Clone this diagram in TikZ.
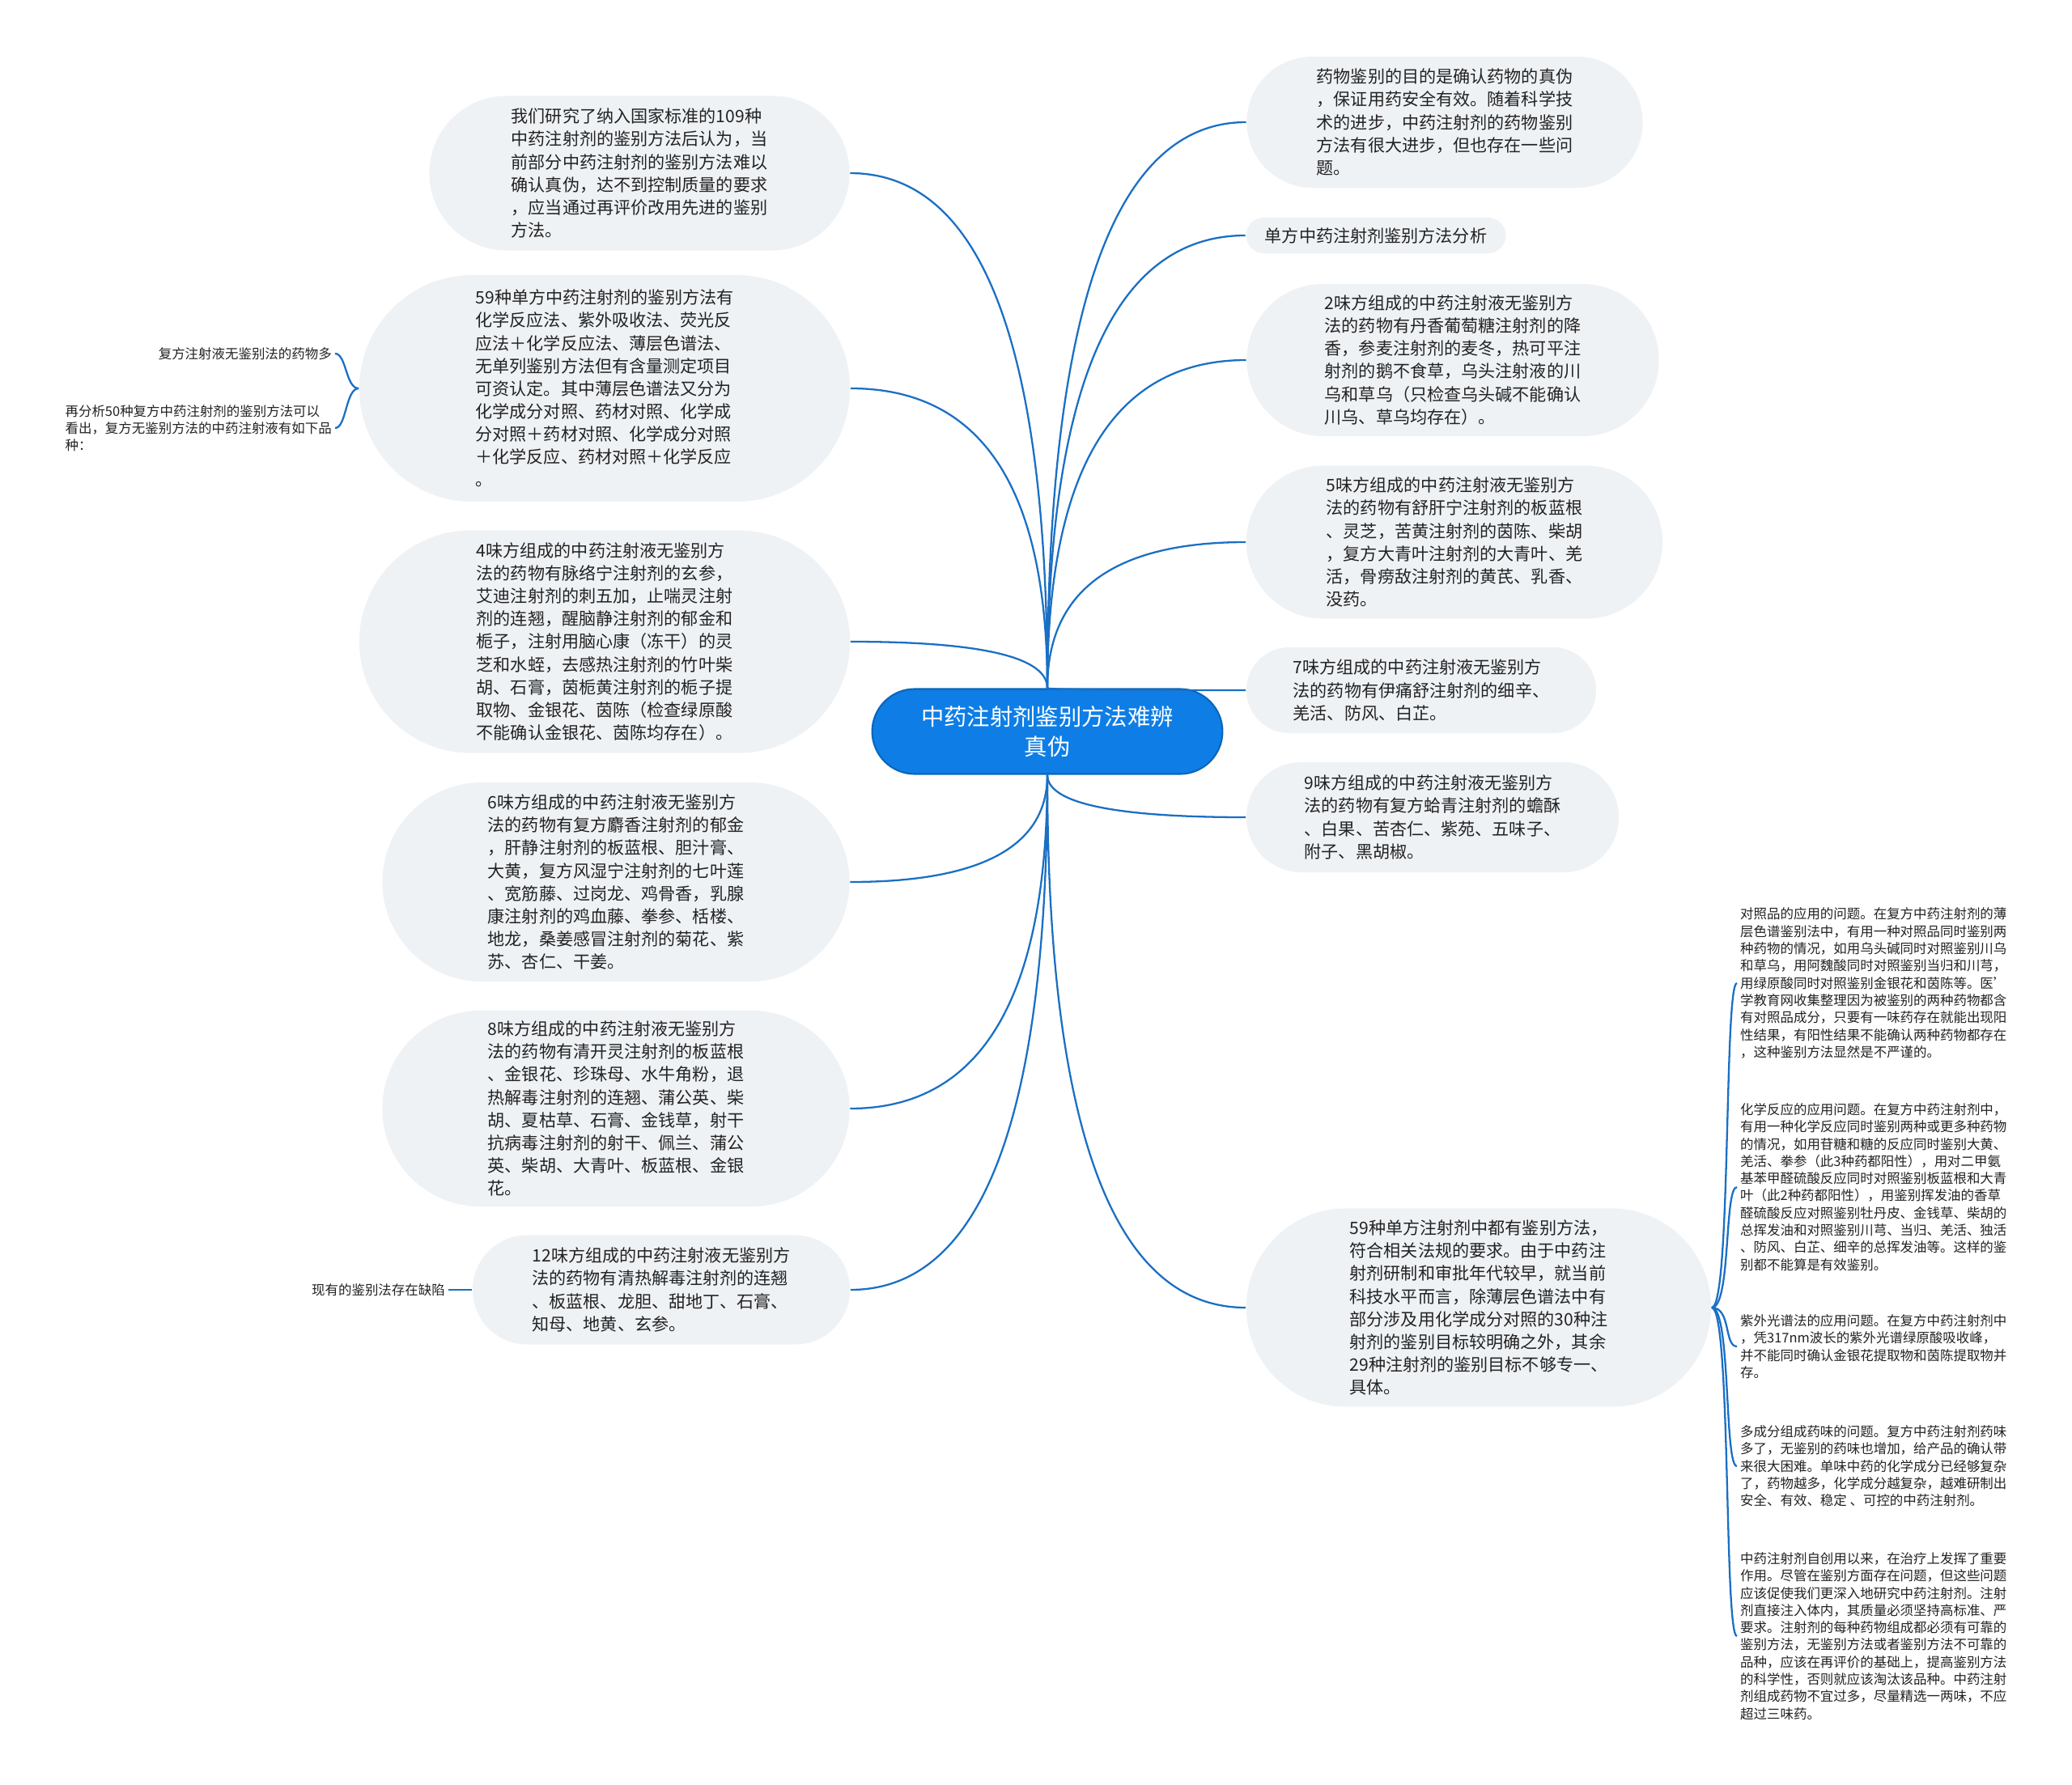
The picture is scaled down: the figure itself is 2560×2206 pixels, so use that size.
\documentclass[tikz,border=0pt]{standalone}
\usepackage{fontspec}
\setmainfont{Noto Sans CJK SC}
\usetikzlibrary{shapes.misc, calc}
\definecolor{c1}{HTML}{1A6FC4}
\definecolor{c2}{HTML}{0E7EE6}
\definecolor{c3}{HTML}{EFF2F5}
\definecolor{c4}{HTML}{222222}

\begin{document}
\begin{tikzpicture}[
    x=0.01cm, y=-0.01cm,
    pill/.style={rounded rectangle, fill=c3, text=c4, align=left,
                 inner xsep=0pt, inner ysep=0pt,
                 font=\fontsize{6}{8}\selectfont},
    root/.style={rounded rectangle, fill=c2, draw=c2!80!black, line width=0.6pt,
                 text=white, align=center, font=\fontsize{8.05}{10.7}\selectfont},
    note/.style={align=left, inner sep=1pt, text=c4,
                 font=\fontsize{4.68}{6.06}\selectfont},
    link/.style={c1, line width=0.65pt},
]
\useasboundingbox (0,0) rectangle (2560,2206);

\node[root, minimum width=4.56cm, minimum height=1.05cm] (ctr) at (1294, 904)
    {中药注射剂鉴别方法难辨\\真伪};

% ================================================================ left
\node[pill, minimum width=5.19cm, minimum height=1.91cm] (l1) at (790, 214)
    {我们研究了纳入国家标准的109种\\中药注射剂的鉴别方法后认为，当\\前部分中药注射剂的鉴别方法难以\\确认真伪，达不到控制质量的要求\\，应当通过再评价改用先进的鉴别\\方法。};
\node[pill, minimum width=6.06cm, minimum height=2.80cm] (l2) at (747, 480)
    {59种单方中药注射剂的鉴别方法有\\化学反应法、紫外吸收法、荧光反\\应法＋化学反应法、薄层色谱法、\\无单列鉴别方法但有含量测定项目\\可资认定。其中薄层色谱法又分为\\化学成分对照、药材对照、化学成\\分对照＋药材对照、化学成分对照\\＋化学反应、药材对照＋化学反应\\。};
\node[pill, minimum width=6.06cm, minimum height=2.75cm] (l3) at (747, 793)
    {4味方组成的中药注射液无鉴别方\\法的药物有脉络宁注射剂的玄参，\\艾迪注射剂的刺五加，止喘灵注射\\剂的连翘，醒脑静注射剂的郁金和\\栀子，注射用脑心康（冻干）的灵\\芝和水蛭，去感热注射剂的竹叶柴\\胡、石膏，茵栀黄注射剂的栀子提\\取物、金银花、茵陈（检查绿原酸\\不能确认金银花、茵陈均存在）。};
\node[pill, minimum width=5.77cm, minimum height=2.46cm] (l4) at (761, 1090)
    {6味方组成的中药注射液无鉴别方\\法的药物有复方麝香注射剂的郁金\\，肝静注射剂的板蓝根、胆汁膏、\\大黄，复方风湿宁注射剂的七叶莲\\、宽筋藤、过岗龙、鸡骨香，乳腺\\康注射剂的鸡血藤、拳参、栝楼、\\地龙，桑姜感冒注射剂的菊花、紫\\苏、杏仁、干姜。};
\node[pill, minimum width=5.77cm, minimum height=2.42cm] (l5) at (761, 1370)
    {8味方组成的中药注射液无鉴别方\\法的药物有清开灵注射剂的板蓝根\\、金银花、珍珠母、水牛角粉，退\\热解毒注射剂的连翘、蒲公英、柴\\胡、夏枯草、石膏、金钱草，射干\\抗病毒注射剂的射干、佩兰、蒲公\\英、柴胡、大青叶、板蓝根、金银\\花。};
\node[pill, minimum width=4.66cm, minimum height=1.35cm] (l6) at (817, 1594)
    {12味方组成的中药注射液无鉴别方\\法的药物有清热解毒注射剂的连翘\\、板蓝根、龙胆、甜地丁、石膏、\\知母、地黄、玄参。};

\node[note, anchor=east] (k1) at (414, 437) {复方注射液无鉴别法的药物多};
\node[note, anchor=east] (k2) at (414, 529)
    {再分析50种复方中药注射剂的鉴别方法可以\\看出，复方无鉴别方法的中药注射液有如下品\\种：};
\node[note, anchor=east] (k3) at (554, 1594) {现有的鉴别法存在缺陷};

% ================================================================ right
\node[pill, minimum width=4.89cm, minimum height=1.62cm] (r1) at (1785, 151)
    {药物鉴别的目的是确认药物的真伪\\，保证用药安全有效。随着科学技\\术的进步，中药注射剂的药物鉴别\\方法有很大进步，但也存在一些问\\题。};
\node[pill, minimum width=3.21cm, minimum height=0.44cm] (r2) at (1700, 291)
    {单方中药注射剂鉴别方法分析};
\node[pill, minimum width=5.09cm, minimum height=1.88cm] (r3) at (1795, 445)
    {2味方组成的中药注射液无鉴别方\\法的药物有丹香葡萄糖注射剂的降\\香，参麦注射剂的麦冬，热可平注\\射剂的鹅不食草，乌头注射液的川\\乌和草乌（只检查乌头碱不能确认\\川乌、草乌均存在）。};
\node[pill, minimum width=5.14cm, minimum height=1.89cm] (r4) at (1797, 670)
    {5味方组成的中药注射液无鉴别方\\法的药物有舒肝宁注射剂的板蓝根\\、灵芝，苦黄注射剂的茵陈、柴胡\\，复方大青叶注射剂的大青叶、羌\\活，骨痨敌注射剂的黄芪、乳香、\\没药。};
\node[pill, minimum width=4.32cm, minimum height=1.06cm] (r5) at (1756, 853)
    {7味方组成的中药注射液无鉴别方\\法的药物有伊痛舒注射剂的细辛、\\羌活、防风、白芷。};
\node[pill, minimum width=4.60cm, minimum height=1.36cm] (r6) at (1770, 1010)
    {9味方组成的中药注射液无鉴别方\\法的药物有复方蛤青注射剂的蟾酥\\、白果、苦杏仁、紫苑、五味子、\\附子、黑胡椒。};
\node[pill, minimum width=5.74cm, minimum height=2.45cm] (r7) at (1827, 1616)
    {59种单方注射剂中都有鉴别方法，\\符合相关法规的要求。由于中药注\\射剂研制和审批年代较早，就当前\\科技水平而言，除薄层色谱法中有\\部分涉及用化学成分对照的30种注\\射剂的鉴别目标较明确之外，其余\\29种注射剂的鉴别目标不够专一、\\具体。};

\node[note, anchor=west] (m1) at (2146, 1215)
    {对照品的应用的问题。在复方中药注射剂的薄\\层色谱鉴别法中，有用一种对照品同时鉴别两\\种药物的情况，如用乌头碱同时对照鉴别川乌\\和草乌，用阿魏酸同时对照鉴别当归和川芎，\\用绿原酸同时对照鉴别金银花和茵陈等。医'\\学教育网收集整理因为被鉴别的两种药物都含\\有对照品成分，只要有一味药存在就能出现阳\\性结果，有阳性结果不能确认两种药物都存在\\，这种鉴别方法显然是不严谨的。};
\node[note, anchor=west] (m2) at (2146, 1467)
    {化学反应的应用问题。在复方中药注射剂中，\\有用一种化学反应同时鉴别两种或更多种药物\\的情况，如用苷糖和糖的反应同时鉴别大黄、\\羌活、拳参（此3种药都阳性），用对二甲氨\\基苯甲醛硫酸反应同时对照鉴别板蓝根和大青\\叶（此2种药都阳性），用鉴别挥发油的香草\\醛硫酸反应对照鉴别牡丹皮、金钱草、柴胡的\\总挥发油和对照鉴别川芎、当归、羌活、独活\\、防风、白芷、细辛的总挥发油等。这样的鉴\\别都不能算是有效鉴别。};
\node[note, anchor=west] (m3) at (2146, 1664)
    {紫外光谱法的应用问题。在复方中药注射剂中\\，凭317nm波长的紫外光谱绿原酸吸收峰，\\并不能同时确认金银花提取物和茵陈提取物并\\存。};
\node[note, anchor=west] (m4) at (2146, 1812)
    {多成分组成药味的问题。复方中药注射剂药味\\多了，无鉴别的药味也增加，给产品的确认带\\来很大困难。单味中药的化学成分已经够复杂\\了，药物越多，化学成分越复杂，越难研制出\\安全、有效、稳定 、可控的中药注射剂。};
\node[note, anchor=west] (m5) at (2146, 2022)
    {中药注射剂自创用以来，在治疗上发挥了重要\\作用。尽管在鉴别方面存在问题，但这些问题\\应该促使我们更深入地研究中药注射剂。注射\\剂直接注入体内，其质量必须坚持高标准、严\\要求。注射剂的每种药物组成都必须有可靠的\\鉴别方法，无鉴别方法或者鉴别方法不可靠的\\品种，应该在再评价的基础上，提高鉴别方法\\的科学性，否则就应该淘汰该品种。中药注射\\剂组成药物不宜过多，尽量精选一两味，不应\\超过三味药。};

% ================================================================ links
\foreach \n in {l1, l2, l3}{
    \draw[link] (ctr.north) .. controls ($(ctr.north)!2/3!(ctr.north |- \n.east)$)
        and ($(\n.east)!2/3!(ctr.north |- \n.east)$) .. (\n.east);
}
\foreach \n in {l4, l5, l6}{
    \draw[link] (ctr.south) .. controls ($(ctr.south)!2/3!(ctr.south |- \n.east)$)
        and ($(\n.east)!2/3!(ctr.south |- \n.east)$) .. (\n.east);
}
\foreach \n in {r1, r2, r3, r4, r5}{
    \draw[link] (ctr.north) .. controls ($(ctr.north)!2/3!(ctr.north |- \n.west)$)
        and ($(\n.west)!2/3!(ctr.north |- \n.west)$) .. (\n.west);
}
\foreach \n in {r6, r7}{
    \draw[link] (ctr.south) .. controls ($(ctr.south)!2/3!(ctr.south |- \n.west)$)
        and ($(\n.west)!2/3!(ctr.south |- \n.west)$) .. (\n.west);
}
\foreach \n in {k1, k2}{
    \draw[link] (l2.west) .. controls +(-16,0) and +(14,0) .. (\n.east);
}
\draw[link] (l6.west) -- (k3.east);
\foreach \n in {m1, m2, m3, m4, m5}{
    \draw[link] (r7.east) .. controls +(24,0) and +(-16,0) .. (\n.west);
}

\end{tikzpicture}
\end{document}
